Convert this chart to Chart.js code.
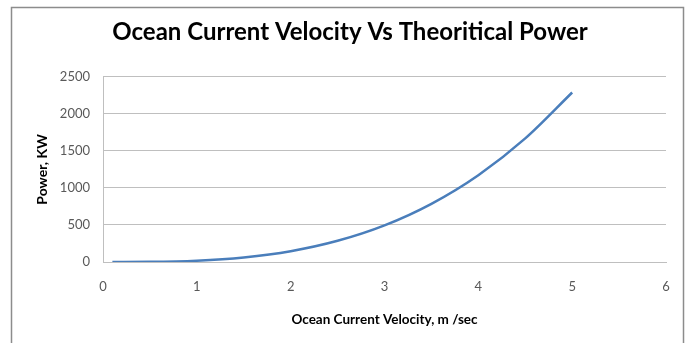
<!DOCTYPE html>
<html><head><meta charset="utf-8">
<script src="https://cdn.jsdelivr.net/npm/chart.js@4.4.0/dist/chart.umd.min.js"></script>
<style>html,body{margin:0;padding:0;background:#fff;}#wrap{width:687px;height:343px;position:relative;}</style>
</head><body><div id="wrap"><canvas id="c" width="687" height="343"></canvas></div>
<script>
const velocity = [0.1, 0.5, 1, 1.5, 2, 2.5, 3, 3.5, 4, 4.5, 5];
const power = [0, 2, 18, 62, 146, 286, 494, 785, 1171, 1668, 2288];
const yTicks = [0, 500, 1000, 1500, 2000, 2500];
const xTicks = [0, 1, 2, 3, 4, 5, 6];
const FONT = 'Lato, "Liberation Sans", sans-serif';

const borderPlugin = {
  id: 'outerBorder',
  afterDraw(chart) {
    const ctx = chart.ctx;
    ctx.save();
    ctx.strokeStyle = '#8c8c8c';
    ctx.lineWidth = 1.5;
    ctx.strokeRect(11.5, 7.5, 672, 345);
    ctx.restore();
  }
};

new Chart(document.getElementById('c'), {
  type: 'scatter',
  data: {
    datasets: [{
      data: velocity.map((v, i) => ({x: v, y: power[i]})),
      showLine: true,
      borderColor: '#4a7ebb',
      borderWidth: 2.5,
      pointRadius: 0,
      cubicInterpolationMode: 'monotone',
      fill: false
    }]
  },
  options: {
    responsive: false,
    animation: false,
    layout: {padding: {left: 34, right: 21, top: 0, bottom: 0}},
    plugins: {
      legend: {display: false},
      tooltip: {enabled: false},
      title: {
        display: true,
        text: 'Ocean Current Velocity Vs Theoritical Power',
        color: '#000',
        font: {family: FONT, size: 24, weight: 'bold'},
        padding: {top: 18, bottom: 30}
      }
    },
    scales: {
      x: {
        type: 'linear',
        min: 0, max: 6,
        afterBuildTicks: s => { s.ticks = xTicks.map(v => ({value: v})); },
        afterFit: s => { s.height = 81; },
        grid: {display: false, drawTicks: false},
        border: {display: true, color: '#bfbfbf', width: 1},
        ticks: {color: '#595959', font: {family: FONT, size: 13}, padding: 17,
                callback: v => String(v)},
        title: {display: true, text: 'Ocean Current Velocity, m /sec', color: '#000',
                font: {family: FONT, size: 13.5, weight: 'bold'}, padding: {top: 0, bottom: 15}}
      },
      y: {
        min: 0, max: 2500,
        afterBuildTicks: s => { s.ticks = yTicks.map(v => ({value: v})); },
        afterFit: s => { s.width = 69; },
        grid: {color: '#bfbfbf', lineWidth: 1, drawTicks: false},
        border: {display: true, color: '#bfbfbf', width: 1},
        ticks: {color: '#595959', font: {family: FONT, size: 13}, padding: 13,
                callback: v => String(v)},
        title: {display: true, text: 'Power, KW', color: '#000',
                font: {family: FONT, size: 14, weight: 'bold'}, padding: {top: 0, bottom: 0}}
      }
    }
  },
  plugins: [borderPlugin]
});
</script></body></html>
